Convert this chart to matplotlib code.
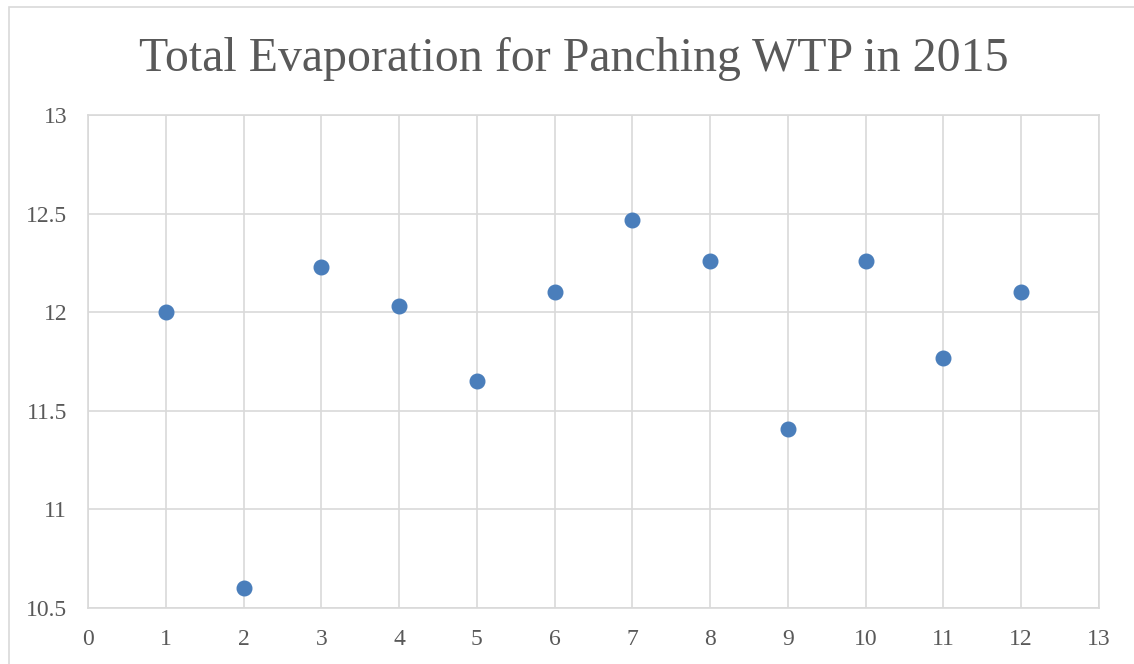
import matplotlib.pyplot as plt
from matplotlib.patches import Rectangle

# Monthly evaporation values
months = [1, 2, 3, 4, 5, 6, 7, 8, 9, 10, 11, 12]
evaporation = [12.00, 10.60, 12.23, 12.03, 11.65, 12.10, 12.47, 12.26, 11.41, 12.26, 11.77, 12.10]
x_ticks = list(range(0, 14))
y_ticks = [10.5, 11, 11.5, 12, 12.5, 13]

plt.rcParams['font.family'] = ['Liberation Serif', 'DejaVu Serif']
text_color = '#595959'
grid_color = '#d9d9d9'

fig = plt.figure(figsize=(11.34, 6.64), dpi=100)
ax = fig.add_axes([0.0776, 0.0843, 0.8914, 0.7425])

# outer chart border (bottom/right cropped in reference)
fig.patches.append(Rectangle((9 / 1134, -0.1), 1.2, 1 - 7 / 664 + 0.1,
                             transform=fig.transFigure, fill=False,
                             edgecolor=grid_color, linewidth=1.2))

ax.plot(months, evaporation, 'o', color='#4a7ebb', markersize=10.5, zorder=3, clip_on=False)

ax.set_xlim(0, 13)
ax.set_ylim(10.5, 13)
ax.set_xticks(x_ticks)
ax.set_yticks(y_ticks)
ax.set_yticklabels(['10.5', '11', '11.5', '12', '12.5', '13'])
ax.grid(True, color=grid_color, linewidth=1.2)
ax.set_axisbelow(True)
for side in ['top', 'right', 'left', 'bottom']:
    ax.spines[side].set_color(grid_color)
    ax.spines[side].set_linewidth(1.2)
ax.tick_params(length=0, labelsize=17, colors=text_color)
ax.tick_params(axis='x', pad=15)
ax.tick_params(axis='y', pad=15)

fig.text(574 / 1134, 1 - 59 / 664, 'Total Evaporation for Panching WTP in 2015',
         ha='center', va='center', fontsize=34.5, color=text_color)

fig.savefig('out.png', dpi=100)
